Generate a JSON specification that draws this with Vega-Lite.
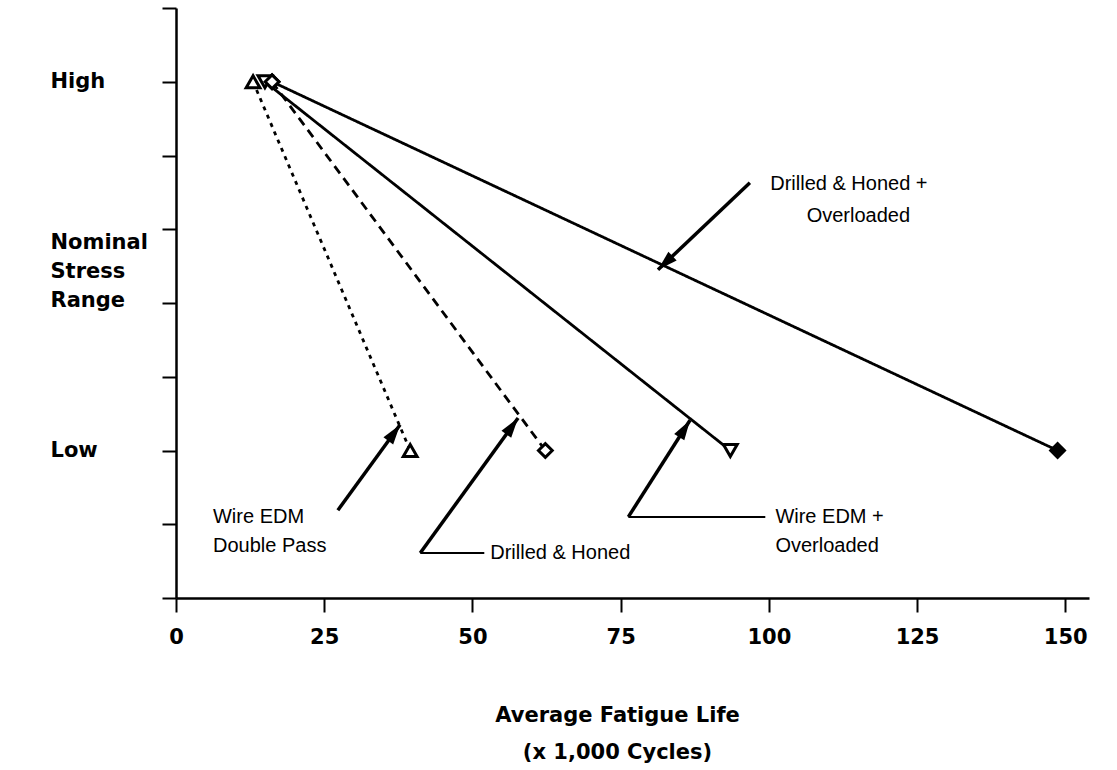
{
  "$schema": "https://vega.github.io/schema/vega-lite/v6.json",
  "width": 913,
  "height": 590,
  "autosize": {"type": "none"},
  "padding": {"left": 176, "top": 8, "right": 28, "bottom": 172},
  "background": "white",
  "config": {"view": {"stroke": null}, "font": "Liberation Sans"},
  "datasets": {
    "lines": [
      {"series": "Wire EDM Double Pass", "x": 13, "y": 7},
      {"series": "Wire EDM Double Pass", "x": 39.5, "y": 2},
      {"series": "Drilled & Honed", "x": 16.2, "y": 7},
      {"series": "Drilled & Honed", "x": 62.3, "y": 2},
      {"series": "Wire EDM + Overloaded", "x": 15, "y": 7},
      {"series": "Wire EDM + Overloaded", "x": 93.5, "y": 2},
      {"series": "Drilled & Honed + Overloaded", "x": 16.2, "y": 7},
      {"series": "Drilled & Honed + Overloaded", "x": 148.7, "y": 2}
    ],
    "arrows": [
      {"arrow": "a1", "x": 96.8, "y": 5.63, "x2": 81.3, "y2": 4.45},
      {"arrow": "a2", "x": 27.3, "y": 1.19, "x2": 37.8, "y2": 2.35},
      {"arrow": "a3", "x": 41.2, "y": 0.61, "x2": 57.7, "y2": 2.44},
      {"arrow": "a4", "x": 76.3, "y": 1.10, "x2": 86.7, "y2": 2.41}
    ],
    "leaders": [
      {"x": 41.2, "y": 0.61, "x2": 52.0, "y2": 0.61},
      {"x": 76.3, "y": 1.10, "x2": 99.4, "y2": 1.10}
    ],
    "centerText": [
      {"label": "Drilled & Honed +", "x": 113.5, "y": 5.61},
      {"label": "Overloaded", "x": 115.1, "y": 5.18}
    ],
    "leftText": [
      {"label": "Wire EDM", "x": 6.24, "y": 1.10},
      {"label": "Double Pass", "x": 6.24, "y": 0.705},
      {"label": "Drilled & Honed", "x": 53.0, "y": 0.61},
      {"label": "Wire EDM +", "x": 101.1, "y": 1.10},
      {"label": "Overloaded", "x": 101.1, "y": 0.705}
    ]
  },
  "encoding": {
    "x": {
      "field": "x", "type": "quantitative",
      "scale": {"domain": [0, 154], "nice": false, "zero": false},
      "axis": {
        "values": [0, 25, 50, 75, 100, 125, 150],
        "grid": false,
        "domainColor": "black", "domainWidth": 2.5,
        "tickColor": "black", "tickWidth": 2, "tickSize": 14,
        "labelFont": "DejaVu Sans", "labelFontWeight": "bold", "labelFontSize": 21,
        "labelColor": "black", "labelPadding": 14, "labelFlush": false, "labelOverlap": false,
        "title": ["Average Fatigue Life", "(x 1,000 Cycles)"],
        "titleFont": "DejaVu Sans", "titleFontSize": 21, "titleFontWeight": "bold",
        "titleColor": "black", "titleLineHeight": 37,
        "titleX": 441, "titleY": 117, "titleBaseline": "middle", "titleAlign": "center", "titleAnchor": null
      }
    },
    "y": {
      "field": "y", "type": "quantitative",
      "scale": {"domain": [0, 8], "nice": false, "zero": false},
      "axis": {
        "values": [0, 1, 2, 3, 4, 5, 6, 7, 8],
        "grid": false,
        "domainColor": "black", "domainWidth": 2.5,
        "tickColor": "black", "tickWidth": 2, "tickSize": 14,
        "labelExpr": "datum.value == 7 ? 'High' : (datum.value == 2 ? 'Low' : '')",
        "labelFont": "DejaVu Sans", "labelFontWeight": "bold", "labelFontSize": 21,
        "labelColor": "black", "labelAlign": "left", "labelBaseline": "middle",
        "labelPadding": 112, "labelFlush": false, "labelOverlap": false,
        "title": ["Nominal", "Stress", "Range"],
        "titleFont": "DejaVu Sans", "titleFontSize": 21, "titleFontWeight": "bold",
        "titleColor": "black", "titleAngle": 0, "titleAlign": "left",
        "titleBaseline": "middle", "titleLineHeight": 29,
        "titleX": -126, "titleY": 234, "titleAnchor": null
      }
    }
  },
  "layer": [
    {
      "data": {"name": "lines"},
      "mark": {"type": "line", "color": "black", "strokeWidth": 2.8},
      "encoding": {
        "detail": {"field": "series"},
        "strokeDash": {
          "field": "series", "type": "nominal", "legend": null,
          "scale": {
            "domain": ["Wire EDM Double Pass", "Drilled & Honed", "Wire EDM + Overloaded", "Drilled & Honed + Overloaded"],
            "range": [[4, 5], [9, 6], [1, 0], [1, 0]]
          }
        }
      }
    },
    {
      "data": {"name": "lines"},
      "mark": {"type": "point", "filled": true, "stroke": "black", "strokeWidth": 3, "size": 190, "opacity": 1},
      "encoding": {
        "shape": {
          "field": "series", "type": "nominal", "legend": null,
          "scale": {
            "domain": ["Wire EDM Double Pass", "Drilled & Honed", "Wire EDM + Overloaded", "Drilled & Honed + Overloaded"],
            "range": ["triangle-up", "diamond", "triangle-down", "diamond"]
          }
        },
        "fill": {
          "condition": {"test": "datum.series === 'Drilled & Honed + Overloaded' && datum.y === 2", "value": "black"},
          "value": "white"
        }
      }
    },
    {
      "data": {"name": "arrows"},
      "mark": {"type": "rule", "color": "black", "strokeWidth": 3.5},
      "encoding": {
        "x2": {"field": "x2"},
        "y2": {"field": "y2"}
      }
    },
    {
      "data": {"name": "arrows"},
      "mark": {"type": "point", "filled": true, "color": "black", "opacity": 1, "size": 400, "shape": "M0,0L-0.6,2L0.6,2Z"},
      "encoding": {
        "x": {"field": "x2", "type": "quantitative"},
        "y": {"field": "y2", "type": "quantitative"},
        "angle": {
          "field": "arrow", "type": "ordinal", "legend": null,
          "scale": {"type": "ordinal", "domain": ["a1", "a2", "a3", "a4"], "range": [226.6, 36.1, 36, 32.6]}
        }
      }
    },
    {
      "data": {"name": "leaders"},
      "mark": {"type": "rule", "color": "black", "strokeWidth": 2},
      "encoding": {
        "x2": {"field": "x2"},
        "y2": {"field": "y2"}
      }
    },
    {
      "data": {"name": "centerText"},
      "mark": {"type": "text", "align": "center", "baseline": "middle", "font": "Liberation Sans", "fontSize": 20, "color": "black"},
      "encoding": {"text": {"field": "label"}}
    },
    {
      "data": {"name": "leftText"},
      "mark": {"type": "text", "align": "left", "baseline": "middle", "font": "Liberation Sans", "fontSize": 20, "color": "black"},
      "encoding": {"text": {"field": "label"}}
    }
  ]
}
